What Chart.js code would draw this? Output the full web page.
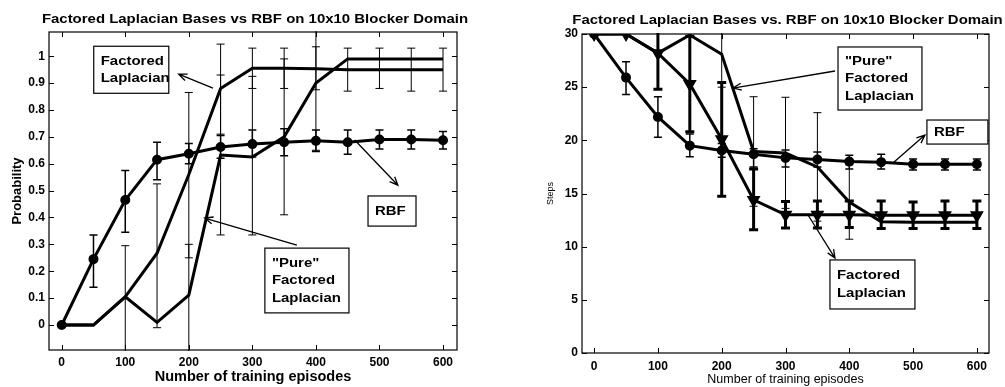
<!DOCTYPE html>
<html>
<head>
<meta charset="utf-8">
<script src="https://cdn.jsdelivr.net/npm/chart.js@4.4.0/dist/chart.umd.min.js"></script>
<style>
  body { margin: 0; background: #fff; }
  #left { position: absolute; left: 0; top: 0; }
  #right { position: absolute; left: 500px; top: 0; }
</style>
</head>
<body>
<canvas id="left" width="500" height="387"></canvas>
<canvas id="right" width="505" height="387"></canvas>
<script>
var episodes = [0, 50, 100, 150, 200, 250, 300, 350, 400, 450, 500, 550, 600];
var episodeTicks = [0, 100, 200, 300, 400, 500, 600];

// success probability
var probTicks = [0, 0.1, 0.2, 0.3, 0.4, 0.5, 0.6, 0.7, 0.8, 0.9, 1];
var rbfProb = [0, 0.245, 0.465, 0.615, 0.637, 0.662, 0.673, 0.68, 0.685, 0.68, 0.69, 0.69, 0.687];
var rbfProbLo = [null, 0.14, 0.345, 0.54, 0.60, 0.62, 0.625, 0.63, 0.645, 0.635, 0.655, 0.655, 0.655];
var rbfProbHi = [null, 0.335, 0.575, 0.68, 0.675, 0.705, 0.725, 0.73, 0.725, 0.725, 0.725, 0.725, 0.72];
var factProb = [0, 0, 0.105, 0.267, 0.56, 0.88, 0.955, 0.955, 0.953, 0.95, 0.95, 0.95, 0.95];
var factProbLo = [null, null, -0.1, -0.01, 0.25, 0.71, 0.88, 0.88, 0.875, 0.87, 0.88, 0.87, 0.87];
var factProbHi = [null, null, 0.295, 0.525, 0.865, 1.045, 1.03, 1.03, 1.035, 1.03, 1.03, 1.03, 1.03];
var pureProb = [0, 0, 0.105, 0.01, 0.111, 0.632, 0.625, 0.70, 0.90, 0.99, 0.99, 0.99, 0.99];
var pureProbLo = [null, null, null, null, -0.2, 0.335, 0.335, 0.41, 0.65, null, null, null, null];
var pureProbHi = [null, null, null, null, 0.30, 0.93, 0.925, 0.99, 1.15, null, null, null, null];

// steps to goal
var stepTicks = [0, 5, 10, 15, 20, 25, 30];
var rbfSteps = [30, 25.9, 22.2, 19.5, 19.05, 18.7, 18.35, 18.2, 18.0, 17.95, 17.75, 17.75, 17.75];
var rbfStepsLo = [null, 24.3, 20.3, 18.45, 18.4, 17.5, 17.5, 17.5, 17.3, 17.3, 17.2, 17.2, 17.2];
var rbfStepsHi = [null, 27.4, 24.1, 20.6, 19.7, 19.2, 19.1, 18.9, 18.6, 18.7, 18.25, 18.25, 18.25];
var factSteps = [30, 30, 28.2, 25.3, 20.1, 14.4, 13.0, 13.0, 13.0, 12.95, 12.95, 12.95, 12.95];
var factStepsLo = [null, null, 24.8, 20.8, 14.75, 11.6, 11.75, 11.75, 11.8, 11.7, 11.7, 11.7, 11.7];
var factStepsHi = [null, null, 31.6, 29.8, 25.45, 17.3, 14.25, 14.3, 14.3, 14.3, 14.2, 14.3, 14.3];
var pureSteps = [30, 30, 28.2, 29.9, 28.1, 18.95, 18.8, 17.5, 14.2, 12.35, 12.3, 12.3, 12.3];
var pureStepsLo = [null, null, null, null, 25.0, 13.8, 13.6, 12.4, 10.7, 11.7, 11.7, 11.7, 11.7];
var pureStepsHi = [null, null, null, null, 31.2, 24.1, 24.05, 22.6, 17.7, 12.9, 12.9, 12.9, 12.9];

Chart.defaults.font.family = '"Liberation Sans", Arial, Helvetica, sans-serif';
Chart.defaults.color = '#000';

var STRETCH = 1.15; // the printed lettering runs a little wide

function pts(xs, ys) {
  return xs.map(function (x, i) { return { x: x, y: ys[i] }; });
}

function wideText(ctx, text, x, y) {
  ctx.save();
  ctx.translate(x, y);
  ctx.scale(STRETCH, 1);
  ctx.fillText(text, 0, 0);
  ctx.restore();
}

// heading centred over the plot box
var heading = {
  id: 'heading',
  afterDraw: function (chart, args, opts) {
    var a = chart.chartArea, ctx = chart.ctx;
    ctx.save();
    ctx.font = 'bold ' + opts.size + 'px ' + Chart.defaults.font.family;
    ctx.fillStyle = '#000';
    ctx.textAlign = 'center';
    ctx.textBaseline = 'middle';
    wideText(ctx, opts.text, (a.left + a.right) / 2 + (opts.dx || 0), opts.y);
    ctx.restore();
  }
};

// box round the plot with inward ticks on every side
var frame = {
  id: 'frame',
  afterDraw: function (chart) {
    var a = chart.chartArea, ctx = chart.ctx, sx = chart.scales.x, sy = chart.scales.y;
    var len = 5;
    ctx.save();
    ctx.strokeStyle = '#000';
    ctx.lineWidth = 1.2;
    ctx.strokeRect(a.left, a.top, a.right - a.left, a.bottom - a.top);
    ctx.lineWidth = 1;
    ctx.beginPath();
    sx.ticks.forEach(function (t) {
      var px = Math.round(sx.getPixelForValue(t.value)) + 0.5;
      ctx.moveTo(px, a.bottom); ctx.lineTo(px, a.bottom - len);
      ctx.moveTo(px, a.top); ctx.lineTo(px, a.top + len);
    });
    sy.ticks.forEach(function (t) {
      var py = Math.round(sy.getPixelForValue(t.value)) + 0.5;
      ctx.moveTo(a.left, py); ctx.lineTo(a.left + len, py);
      ctx.moveTo(a.right, py); ctx.lineTo(a.right - len, py);
    });
    ctx.stroke();
    ctx.restore();
  }
};

// vertical error bars taken from errLow / errHigh on each dataset
var errorBars = {
  id: 'errorBars',
  afterDatasetsDraw: function (chart) {
    var a = chart.chartArea, ctx = chart.ctx, sx = chart.scales.x, sy = chart.scales.y;
    ctx.save();
    ctx.beginPath();
    ctx.rect(a.left, a.top - 1, a.right - a.left, a.bottom - a.top + 2);
    ctx.clip();
    ctx.strokeStyle = '#000';
    chart.data.datasets.forEach(function (ds) {
      if (!ds.errLow) return;
      ctx.lineWidth = ds.errWidth || 1;
      var cap = ds.capWidth || 4;
      ds.data.forEach(function (p, i) {
        var lo = ds.errLow[i], hi = ds.errHigh[i];
        if (lo === null || hi === null) return;
        var px = sx.getPixelForValue(p.x);
        var y1 = sy.getPixelForValue(lo), y2 = sy.getPixelForValue(hi);
        ctx.beginPath();
        ctx.moveTo(px, y1); ctx.lineTo(px, y2);
        ctx.moveTo(px - cap, y1); ctx.lineTo(px + cap, y1);
        ctx.moveTo(px - cap, y2); ctx.lineTo(px + cap, y2);
        ctx.stroke();
      });
    });
    ctx.restore();
  }
};

// labelled boxes with arrows pointing at the curves
var callouts = {
  id: 'callouts',
  afterDraw: function (chart, args, opts) {
    var ctx = chart.ctx, sx = chart.scales.x, sy = chart.scales.y;
    var fam = Chart.defaults.font.family;
    (opts.items || []).forEach(function (c) {
      var x1 = sx.getPixelForValue(c.box[0]), y1 = sy.getPixelForValue(c.box[1]);
      var x2 = sx.getPixelForValue(c.box[2]), y2 = sy.getPixelForValue(c.box[3]);
      ctx.save();
      ctx.fillStyle = '#fff';
      ctx.fillRect(x1, y1, x2 - x1, y2 - y1);
      ctx.strokeStyle = '#000';
      ctx.lineWidth = 1.2;
      ctx.strokeRect(x1, y1, x2 - x1, y2 - y1);
      ctx.fillStyle = '#000';
      ctx.font = 'bold 13px ' + fam;
      ctx.textAlign = 'left';
      ctx.textBaseline = 'middle';
      var lh = 17.5;
      var cy = (y1 + y2) / 2 - (c.lines.length - 1) * lh / 2;
      c.lines.forEach(function (t, i) {
        wideText(ctx, t, x1 + 7, cy + i * lh);
      });
      // arrow
      var fx = sx.getPixelForValue(c.from[0]), fy = sy.getPixelForValue(c.from[1]);
      var tx = sx.getPixelForValue(c.to[0]), ty = sy.getPixelForValue(c.to[1]);
      var ang = Math.atan2(ty - fy, tx - fx);
      ctx.lineWidth = 1.3;
      ctx.beginPath();
      ctx.moveTo(fx, fy); ctx.lineTo(tx, ty);
      ctx.moveTo(tx - 9 * Math.cos(ang - 0.4), ty - 9 * Math.sin(ang - 0.4));
      ctx.lineTo(tx, ty);
      ctx.lineTo(tx - 9 * Math.cos(ang + 0.4), ty - 9 * Math.sin(ang + 0.4));
      ctx.stroke();
      ctx.restore();
    });
  }
};

function fixedTicks(vals) {
  return function (s) { s.ticks = vals.map(function (v) { return { value: v }; }); };
}

new Chart(document.getElementById('left'), {
  type: 'line',
  data: {
    datasets: [
      { label: 'Factored Laplacian', data: pts(episodes, factProb), borderColor: '#000', borderWidth: 3, pointRadius: 0,
        errLow: factProbLo, errHigh: factProbHi, errWidth: 1, capWidth: 4 },
      { label: '"Pure" Factored Laplacian', data: pts(episodes, pureProb), borderColor: '#000', borderWidth: 3, pointRadius: 0,
        errLow: pureProbLo, errHigh: pureProbHi, errWidth: 1, capWidth: 4 },
      { label: 'RBF', data: pts(episodes, rbfProb), borderColor: '#000', backgroundColor: '#000', borderWidth: 3,
        pointRadius: 3.5, pointStyle: 'circle', errLow: rbfProbLo, errHigh: rbfProbHi, errWidth: 1.5, capWidth: 4 }
    ]
  },
  options: {
    responsive: false,
    animation: false,
    layout: { padding: { left: 0, right: 43, top: 32, bottom: 0 } },
    scales: {
      x: {
        type: 'linear', min: -20, max: 622,
        afterBuildTicks: fixedTicks(episodeTicks),
        afterFit: function (s) { s.height = 37; },
        grid: { display: false, drawTicks: false }, border: { display: false },
        ticks: { padding: 5, maxRotation: 0, font: { size: 12, weight: 'bold' } },
        title: { display: true, text: 'Number of training episodes', font: { size: 14.5, weight: 'bold' }, padding: { top: 0, bottom: 1 } }
      },
      y: {
        min: -0.093, max: 1.09,
        afterBuildTicks: fixedTicks(probTicks),
        afterFit: function (s) { s.width = 49; },
        grid: { display: false, drawTicks: false }, border: { display: false },
        ticks: { padding: 4, font: { size: 12, weight: 'bold' }, callback: function (v) { return String(v); } },
        title: { display: true, text: 'Probability', font: { size: 13, weight: 'bold' }, padding: { top: 10, bottom: 0 } }
      }
    },
    plugins: {
      legend: { display: false },
      tooltip: { enabled: false },
      heading: { text: 'Factored Laplacian Bases vs RBF on 10x10 Blocker Domain', size: 13, y: 19, dx: 2 },
      callouts: {
        items: [
          { box: [50.4, 1.037, 168.5, 0.862], lines: ['Factored', 'Laplacian'], from: [238, 0.881], to: [184, 0.933] },
          { box: [482, 0.48, 557.5, 0.368], lines: ['RBF'], from: [461, 0.688], to: [529, 0.52] },
          { box: [319.7, 0.286, 452, 0.045], lines: ['"Pure"', 'Factored', 'Laplacian'], from: [370, 0.297], to: [225, 0.398] }
        ]
      }
    }
  },
  plugins: [errorBars, frame, callouts, heading]
});

new Chart(document.getElementById('right'), {
  type: 'line',
  data: {
    datasets: [
      { label: 'RBF', data: pts(episodes, rbfSteps), borderColor: '#000', backgroundColor: '#000', borderWidth: 3,
        pointRadius: 3.5, pointStyle: 'circle', errLow: rbfStepsLo, errHigh: rbfStepsHi, errWidth: 1.5, capWidth: 4 },
      { label: '"Pure" Factored Laplacian', data: pts(episodes, pureSteps), borderColor: '#000', backgroundColor: '#000', borderWidth: 3,
        pointRadius: 0, errLow: pureStepsLo, errHigh: pureStepsHi, errWidth: 1, capWidth: 4 },
      { label: 'Factored Laplacian', data: pts(episodes, factSteps), borderColor: '#000', backgroundColor: '#000', borderWidth: 3,
        pointRadius: 5, pointStyle: 'triangle', rotation: 180, errLow: factStepsLo, errHigh: factStepsHi, errWidth: 3, capWidth: 4.5 }
    ]
  },
  options: {
    responsive: false,
    animation: false,
    layout: { padding: { left: 0, right: 16, top: 34, bottom: 0 } },
    scales: {
      x: {
        type: 'linear', min: -19, max: 619,
        afterBuildTicks: fixedTicks(episodeTicks),
        afterFit: function (s) { s.height = 34; },
        grid: { display: false, drawTicks: false }, border: { display: false },
        ticks: { padding: 6, maxRotation: 0, font: { size: 12, weight: 'bold' } },
        title: { display: true, text: 'Number of training episodes', font: { size: 12.5 }, padding: { top: 0, bottom: 0 } }
      },
      y: {
        min: 0, max: 30,
        afterBuildTicks: fixedTicks(stepTicks),
        afterFit: function (s) { s.width = 82; },
        grid: { display: false, drawTicks: false }, border: { display: false },
        ticks: { padding: 4, font: { size: 12, weight: 'bold' } },
        title: { display: true, text: 'Steps', font: { size: 9 }, padding: { top: 45, bottom: 0 } }
      }
    },
    plugins: {
      legend: { display: false },
      tooltip: { enabled: false },
      heading: { text: 'Factored Laplacian Bases vs. RBF on 10x10 Blocker Domain', size: 13, y: 20, dx: 2 },
      callouts: {
        items: [
          { box: [382.3, 28.78, 513.9, 22.85], lines: ['"Pure"', 'Factored', 'Laplacian'], from: [377.6, 26.52], to: [217.8, 24.92] },
          { box: [521.7, 21.91, 617.3, 19.65], lines: ['RBF'], from: [468.4, 17.87], to: [518.6, 20.5] },
          { box: [369.7, 8.75, 502.9, 4.14], lines: ['Factored', 'Laplacian'], from: [335.3, 12.98], to: [377.6, 8.93] }
        ]
      }
    }
  },
  plugins: [errorBars, frame, callouts, heading]
});
</script>
</body>
</html>
